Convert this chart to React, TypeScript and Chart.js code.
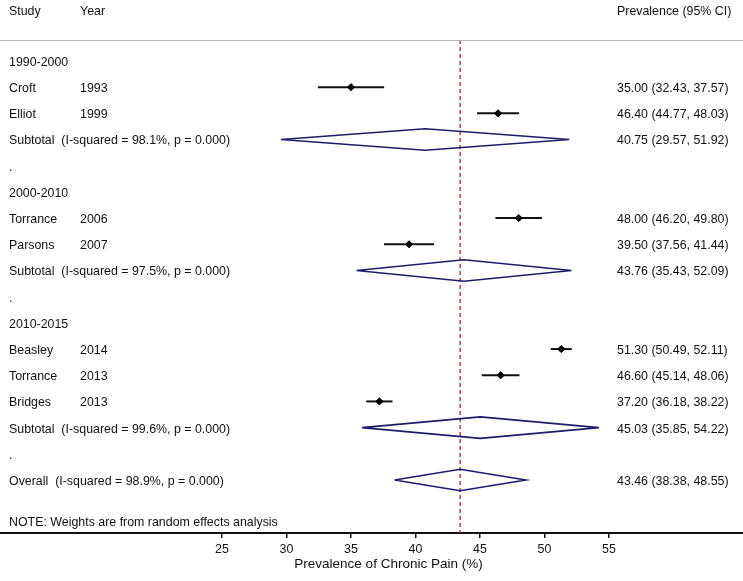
import React, { useEffect, useRef } from 'react';
import { Chart, registerables } from 'chart.js';

Chart.register(...registerables);

// ---- data ----
const studyRows = [1, 2, 6, 7, 11, 12, 13];
const studyNames = ['Croft', 'Elliot', 'Torrance', 'Parsons', 'Beasley', 'Torrance', 'Bridges'];
const studyYears = ['1993', '1999', '2006', '2007', '2014', '2013', '2013'];
const studyEst = [35.0, 46.4, 48.0, 39.5, 51.3, 46.6, 37.2];
const studyLo = [32.43, 44.77, 46.2, 37.56, 50.49, 45.14, 36.18];
const studyHi = [37.57, 48.03, 49.8, 41.44, 52.11, 48.06, 38.22];

const groupRows = [0, 5, 10];
const groupLabels = ['1990-2000', '2000-2010', '2010-2015'];
const spacerRows = [4, 9, 15];

const pooledRows = [3, 8, 14, 16];
const pooledLabels = ['Subtotal', 'Subtotal', 'Subtotal', 'Overall'];
const pooledI2 = ['98.1%', '97.5%', '99.6%', '98.9%'];
const pooledP = ['0.000', '0.000', '0.000', '0.000'];
const pooledEst = [40.75, 43.76, 45.03, 43.46];
const pooledLo = [29.57, 35.43, 35.85, 38.38];
const pooledHi = [51.92, 52.09, 54.22, 48.55];

const overallEst = 43.46;
const xTicks = [25, 30, 35, 40, 45, 50, 55];
const xTitle = 'Prevalence of Chronic Pain (%)';
const noteText = 'NOTE: Weights are from random effects analysis';
const headerStudy = 'Study';
const headerYear = 'Year';
const headerRight = 'Prevalence (95% CI)';

// ---- layout constants ----
const W = 743;
const H = 581;
const X_MIN = 7.791;
const X_MAX = 65.388;
const Y_MIN = -2.329;
const Y_MAX = 18.024;
const HEADER_ROW = -1.947;
const SEP_ROW = -0.8;
const NOTE_ROW = 17.565;
const DIAMOND_HALF = 0.41;
const TEXT_DY = 1.5;
const FONT = '"Liberation Sans", Arial, Helvetica, sans-serif';
const NAVY = '#1c1c6b';
const RED = '#9e2a2b';
const INK = '#111111';

const fmt = (e: number, l: number, h: number) =>
  `${e.toFixed(2)} (${l.toFixed(2)}, ${h.toFixed(2)})`;

const textPlugin = {
  id: 'forestText',
  afterDraw(chart: any) {
    const ctx = chart.ctx;
    const ys = chart.scales.y;
    const py = (r: number) => ys.getPixelForValue(r) + TEXT_DY;
    const xName = 9;
    const xYear = 80;
    const xRight = 617;
    ctx.save();
    ctx.fillStyle = INK;
    ctx.textBaseline = 'middle';
    ctx.textAlign = 'left';
    ctx.font = `12.4px ${FONT}`;
    // header
    ctx.fillText(headerStudy, xName, py(HEADER_ROW));
    ctx.fillText(headerYear, xYear, py(HEADER_ROW));
    ctx.fillText(headerRight, xRight, py(HEADER_ROW));
    // separator
    const sy = Math.round(ys.getPixelForValue(SEP_ROW)) + 0.5;
    ctx.strokeStyle = '#b8b8b8';
    ctx.lineWidth = 1;
    ctx.beginPath();
    ctx.moveTo(0, sy);
    ctx.lineTo(W, sy);
    ctx.stroke();
    // groups
    groupRows.forEach((r, i) => ctx.fillText(groupLabels[i], xName, py(r)));
    spacerRows.forEach((r) => ctx.fillText('.', xName, py(r)));
    // studies
    studyRows.forEach((r, i) => {
      ctx.fillText(studyNames[i], xName, py(r));
      ctx.fillText(studyYears[i], xYear, py(r));
      ctx.fillText(fmt(studyEst[i], studyLo[i], studyHi[i]), xRight, py(r));
    });
    // pooled
    pooledRows.forEach((r, i) => {
      ctx.fillText(
        `${pooledLabels[i]}  (I-squared = ${pooledI2[i]}, p = ${pooledP[i]})`,
        xName,
        py(r)
      );
      ctx.fillText(fmt(pooledEst[i], pooledLo[i], pooledHi[i]), xRight, py(r));
    });
    // note
    ctx.fillText(noteText, xName, py(NOTE_ROW));
    // axis title
    ctx.textAlign = 'center';
    ctx.font = `13.5px ${FONT}`;
    ctx.fillText(xTitle, 388.5, 564);
    ctx.restore();
  },
};

export default function App() {
  const ref = useRef<HTMLCanvasElement | null>(null);

  useEffect(() => {
    if (!ref.current) return;
    const datasets: any[] = [];

    // reference line at overall estimate
    datasets.push({
      data: [
        { x: overallEst, y: SEP_ROW },
        { x: overallEst, y: Y_MAX },
      ],
      showLine: true,
      borderColor: RED,
      borderWidth: 1.3,
      borderDash: [4, 3],
      pointRadius: 0,
      order: 3,
    });

    // study confidence intervals
    studyRows.forEach((r, i) => {
      datasets.push({
        data: [
          { x: studyLo[i], y: r },
          { x: studyHi[i], y: r },
        ],
        showLine: true,
        borderColor: INK,
        borderWidth: 2,
        pointRadius: 0,
        order: 1,
      });
    });

    // study point estimates
    datasets.push({
      data: studyRows.map((r, i) => ({ x: studyEst[i], y: r })),
      showLine: false,
      pointStyle: 'rectRot',
      pointRadius: 3.6,
      backgroundColor: '#000',
      borderColor: '#000',
      borderWidth: 1,
      order: 0,
    });

    // pooled diamonds
    pooledRows.forEach((r, i) => {
      datasets.push({
        data: [
          { x: pooledLo[i], y: r },
          { x: pooledEst[i], y: r - DIAMOND_HALF },
          { x: pooledHi[i], y: r },
          { x: pooledEst[i], y: r + DIAMOND_HALF },
          { x: pooledLo[i], y: r },
        ],
        showLine: true,
        fill: false,
        tension: 0,
        borderColor: NAVY,
        borderWidth: 1.6,
        borderJoinStyle: 'miter',
        pointRadius: 0,
        order: 2,
      });
    });

    const chart = new Chart(ref.current, {
      type: 'scatter',
      data: { datasets },
      options: {
        animation: false,
        responsive: false,
        devicePixelRatio: 1,
        layout: { padding: 0, autoPadding: false },
        plugins: {
          legend: { display: false },
          tooltip: { enabled: false },
        },
        scales: {
          x: {
            type: 'linear',
            position: 'bottom',
            min: X_MIN,
            max: X_MAX,
            afterBuildTicks: (scale: any) => {
              scale.ticks = xTicks.map((v) => ({ value: v }));
            },
            afterFit: (scale: any) => {
              scale.height = 48;
            },
            ticks: {
              autoSkip: false,
              maxRotation: 0,
              color: INK,
              padding: 4,
              font: { family: FONT, size: 12.4 },
              callback: (v: any) => String(v),
            },
            grid: {
              display: true,
              drawOnChartArea: false,
              drawTicks: true,
              tickLength: 5,
              color: INK,
              lineWidth: 1.5,
            },
            border: { display: true, color: INK, width: 2 },
          },
          y: {
            type: 'linear',
            display: false,
            reverse: true,
            min: Y_MIN,
            max: Y_MAX,
          },
        },
      },
      plugins: [textPlugin],
    });
    return () => chart.destroy();
  }, []);

  return (
    <div style={{ position: 'fixed', left: 0, top: 0, width: W, height: H, background: '#fff' }}>
      <canvas ref={ref} width={W} height={H} style={{ display: 'block' }} />
    </div>
  );
}
